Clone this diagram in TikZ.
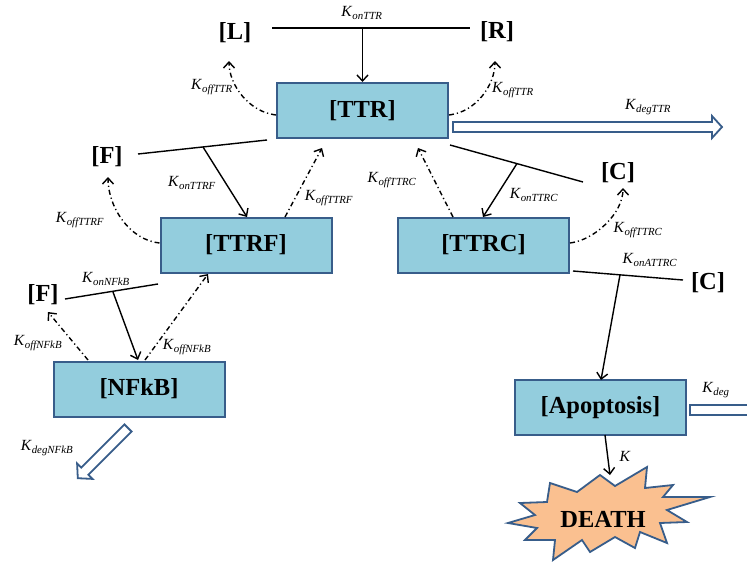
\documentclass[tikz,border=0pt]{standalone}
\usepackage{fontspec}
\setmainfont{Liberation Serif}
\usetikzlibrary{arrows.meta,calc}
\definecolor{boxfill}{RGB}{147,205,221}
\definecolor{boxline}{RGB}{56,93,138}
\definecolor{burstfill}{RGB}{250,192,144}
\newcommand\rate[1]{\textit{K}\textsubscript{\textit{#1}}}
\newcommand\harrow[3]{\begin{scope}[shift={#1},rotate=#2]
\draw[hollowar] (0,-5) -- ({#3-10},-5) -- ({#3-10},-11) -- (#3,0) -- ({#3-10},11) -- ({#3-10},5) -- (0,5) -- cycle;
\end{scope}}
\tikzset{
  box/.style={draw=boxline, fill=boxfill, line width=2pt, minimum width=171pt, minimum height=55pt, inner sep=0pt, font=\bfseries\fontsize{24.5}{24.5}\selectfont},
  spec/.style={font=\bfseries\fontsize{24.5}{24.5}\selectfont, inner sep=0pt},
  rlabel/.style={font=\fontsize{15.5}{15.5}\selectfont, inner sep=0pt},
  rx/.style={line width=1.4pt},
  onar/.style={line width=1.4pt, -{Straight Barb[length=6pt,width=11pt]}},
  offar/.style={line width=1.4pt, dash pattern=on 5pt off 3pt on 1.2pt off 3pt, -{Straight Barb[length=6pt,width=11pt]}},
  hollowar/.style={draw=boxline, fill=white, line width=1.8pt, line join=miter},
  burst/.style={draw=boxline, fill=burstfill, line width=1.8pt, line join=miter},
}
\begin{document}
\begin{tikzpicture}[x=1pt,y=-1pt]
\useasboundingbox (0,0) rectangle (747,568);
\clip (0,0) rectangle (747,568);
\fill[white] (0,0) rectangle (747,568);

% boxes
\node[box] (ttr) at (362.5,110.5) {[TTR]};
\node[box] (ttrf) at (246,245) {[TTRF]};
\node[box] (ttrc) at (483.5,245) {[TTRC]};
\node[box] (nfkb) at (139,389) {[NFkB]};
\node[box] (apo) at (600.5,407.5) {[Apoptosis]};

% species
\node[spec] (L) at (235,33) {[L]};
\node[spec] (R) at (497,32) {[R]};
\node[spec] (F1) at (107,157) {[F]};
\node[spec] (F2) at (43,295) {[F]};
\node[spec] (C1) at (618,173) {[C]};
\node[spec] (C2) at (708,283) {[C]};

% DEATH starburst
\draw[burst] (550,483) -- (577,492) -- (600,475) -- (615,486) -- (647,467) -- (645,488) -- (673,485) -- (663,497) -- (710,497) -- (667,510) -- (687,522) -- (660,523) -- (667,543) -- (640,532) -- (635,548) -- (615,537) -- (590,552) -- (582,540) -- (553,560) -- (555,540) -- (525,540) -- (537,528) -- (508,523) -- (535,515) -- (520,503) -- (547,502) -- cycle;
\node[spec] (death) at (603,519) {DEATH};

% L + R -> TTR
\coordinate (lr1) at (272,28);
\coordinate (lr2) at (470,28);
\coordinate (lrm) at (362.5,28);
\draw[rx] (lr1) -- (lr2);
\draw[onar] (lrm) -- (ttr.north);
\node[rlabel] (k1) at (362,13) {\rate{onTTR}};

% TTR -> L, R
\coordinate (ttrw) at ($(ttr.west)+(0,4.5)$);
\coordinate (ttre) at ($(ttr.east)+(0,4.5)$);
\coordinate (ltip) at (229,61);
\coordinate (rtip) at (495,61);
\draw[offar] (ttrw) .. controls +(-27,-3) and +(0,24) .. (ltip);
\draw[offar] (ttre) .. controls +(27,-3) and +(0,24) .. (rtip);
\node[rlabel] (k2) at (212,87) {\rate{offTTR}};
\node[rlabel] (k3) at (513,90) {\rate{offTTR}};

% TTR degradation
\harrow{(453,127)}{0}{269}
\node[rlabel] (k4) at (648,107) {\rate{degTTR}};

% TTR + F -> TTRF
\coordinate (f1a) at (138,154);
\coordinate (f1b) at (267,140);
\coordinate (f1m) at (203,147);
\coordinate (ttrfin) at (247,217);
\draw[rx] (f1a) -- (f1b);
\draw[onar] (f1m) -- (ttrfin);
\node[rlabel] (k5) at (192,183) {\rate{onTTRF}};

% TTRF -> TTR + F
\coordinate (ttrfo) at (285,217);
\coordinate (ttrin1) at (322,148);
\draw[offar] (ttrfo) -- (ttrin1);
\node[rlabel] (k6) at (329,198) {\rate{offTTRF}};
\coordinate (ttrfw) at ($(ttrf.west)+(0,-2)$);
\coordinate (f1tip) at (108,177);
\draw[offar] (ttrfw) .. controls +(-30,-3) and +(0,30) .. (f1tip);
\node[rlabel] (k7) at (80,220) {\rate{offTTRF}};

% TTRF + F -> NFkB
\coordinate (f2a) at (65,299);
\coordinate (f2b) at (158,284);
\coordinate (f2m) at (113,292);
\coordinate (nfin) at (138,360);
\draw[rx] (f2a) -- (f2b);
\draw[onar] (f2m) -- (nfin);
\node[rlabel] (k8) at (106,279) {\rate{onNFkB}};

% NFkB -> TTRF + F
\coordinate (nfo1) at (145,360);
\coordinate (ttrfb) at (208,274);
\draw[offar] (nfo1) -- (ttrfb);
\node[rlabel] (k9) at (187,347) {\rate{offNFkB}};
\coordinate (nfo2) at (88,360);
\coordinate (f2tip) at (48,312);
\draw[offar] (nfo2) -- (f2tip);
\node[rlabel] (k10) at (38,343) {\rate{offNFkB}};

% NFkB degradation
\harrow{(128,428)}{225}{71}
\node[rlabel] (k11) at (47,448) {\rate{degNFkB}};

% TTR + C -> TTRC
\coordinate (c1a) at (450,145);
\coordinate (c1b) at (583,182);
\coordinate (c1m) at (517,163.5);
\coordinate (ttrcin) at (483,217);
\draw[rx] (c1a) -- (c1b);
\draw[onar] (c1m) -- (ttrcin);
\node[rlabel] (k12) at (534,195) {\rate{onTTRC}};

% TTRC -> TTR + C
\coordinate (ttrco) at (453,217);
\coordinate (ttrin2) at (418,148);
\draw[offar] (ttrco) -- (ttrin2);
\node[rlabel] (k13) at (392,180) {\rate{offTTRC}};
\coordinate (ttrce) at ($(ttrc.east)+(0,-2)$);
\coordinate (c1tip) at (623,188);
\draw[offar] (ttrce) .. controls +(25,-3) and +(0,25) .. (c1tip);
\node[rlabel] (k14) at (638,230) {\rate{offTTRC}};

% TTRC + C -> Apoptosis
\coordinate (c2a) at (573,271);
\coordinate (c2b) at (683,280);
\coordinate (c2m) at (620,274.8);
\coordinate (apoin) at (601,380);
\draw[rx] (c2a) -- (c2b);
\draw[onar] (c2m) -- (apoin);
\node[rlabel] (k15) at (650,260) {\rate{onATTRC}};

% Apoptosis degradation
\harrow{(690,410)}{0}{70}
\node[rlabel] (k16) at (716,390) {\rate{deg}};

% Apoptosis -> DEATH
\coordinate (apoout) at (605,435);
\coordinate (deathin) at (610,475);
\draw[onar] (apoout) -- (deathin);
\node[rlabel] (k17) at (625,456) {\textit{K}};
\end{tikzpicture}
\end{document}
